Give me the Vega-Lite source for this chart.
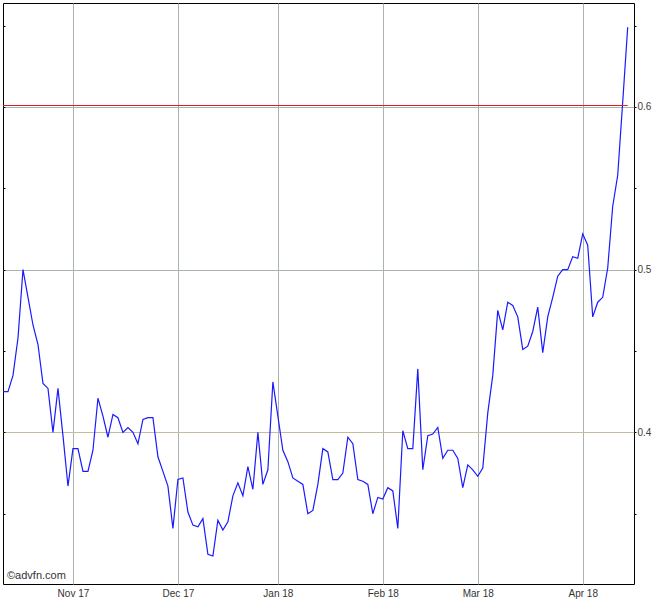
{
  "$schema": "https://vega.github.io/schema/vega-lite/v6.json",
  "autosize": {"type": "none"},
  "padding": {"left": 3, "top": 3, "right": 36, "bottom": 16},
  "width": 631,
  "height": 581,
  "background": "#ffffff",
  "config": {
    "view": {"stroke": "#000000", "strokeWidth": 1},
    "font": "Liberation Sans",
    "axis": {"labelFont": "Liberation Sans", "labelFontSize": 10, "labelColor": "#333333"}
  },
  "datasets": {
    "prices": [
      {"date": "2017-10-12", "price": 0.425}, {"date": "2017-10-13", "price": 0.425}, {"date": "2017-10-16", "price": 0.435}, {"date": "2017-10-17", "price": 0.458}, {"date": "2017-10-18", "price": 0.500}, {"date": "2017-10-19", "price": 0.483}, {"date": "2017-10-20", "price": 0.466}, {"date": "2017-10-23", "price": 0.454}, {"date": "2017-10-24", "price": 0.430}, {"date": "2017-10-25", "price": 0.427}, {"date": "2017-10-26", "price": 0.400}, {"date": "2017-10-27", "price": 0.427}, {"date": "2017-10-30", "price": 0.398}, {"date": "2017-10-31", "price": 0.367},
      {"date": "2017-11-01", "price": 0.390}, {"date": "2017-11-02", "price": 0.390}, {"date": "2017-11-03", "price": 0.376}, {"date": "2017-11-06", "price": 0.376}, {"date": "2017-11-07", "price": 0.389}, {"date": "2017-11-08", "price": 0.421}, {"date": "2017-11-09", "price": 0.410}, {"date": "2017-11-10", "price": 0.397}, {"date": "2017-11-13", "price": 0.411}, {"date": "2017-11-14", "price": 0.409}, {"date": "2017-11-15", "price": 0.400}, {"date": "2017-11-16", "price": 0.403}, {"date": "2017-11-17", "price": 0.400}, {"date": "2017-11-20", "price": 0.393}, {"date": "2017-11-21", "price": 0.408}, {"date": "2017-11-22", "price": 0.409}, {"date": "2017-11-24", "price": 0.409}, {"date": "2017-11-27", "price": 0.385}, {"date": "2017-11-28", "price": 0.376}, {"date": "2017-11-29", "price": 0.367}, {"date": "2017-11-30", "price": 0.341},
      {"date": "2017-12-01", "price": 0.371}, {"date": "2017-12-04", "price": 0.372}, {"date": "2017-12-05", "price": 0.351}, {"date": "2017-12-06", "price": 0.343}, {"date": "2017-12-07", "price": 0.342}, {"date": "2017-12-08", "price": 0.347}, {"date": "2017-12-11", "price": 0.325}, {"date": "2017-12-12", "price": 0.324}, {"date": "2017-12-13", "price": 0.346}, {"date": "2017-12-14", "price": 0.340}, {"date": "2017-12-15", "price": 0.345}, {"date": "2017-12-18", "price": 0.361}, {"date": "2017-12-19", "price": 0.369}, {"date": "2017-12-20", "price": 0.361}, {"date": "2017-12-21", "price": 0.379}, {"date": "2017-12-22", "price": 0.365}, {"date": "2017-12-26", "price": 0.400}, {"date": "2017-12-27", "price": 0.368}, {"date": "2017-12-28", "price": 0.377}, {"date": "2017-12-29", "price": 0.431},
      {"date": "2018-01-02", "price": 0.410}, {"date": "2018-01-03", "price": 0.389}, {"date": "2018-01-04", "price": 0.382}, {"date": "2018-01-05", "price": 0.372}, {"date": "2018-01-08", "price": 0.370}, {"date": "2018-01-09", "price": 0.368}, {"date": "2018-01-10", "price": 0.350}, {"date": "2018-01-11", "price": 0.352}, {"date": "2018-01-12", "price": 0.368}, {"date": "2018-01-16", "price": 0.390}, {"date": "2018-01-17", "price": 0.388}, {"date": "2018-01-18", "price": 0.371}, {"date": "2018-01-19", "price": 0.371}, {"date": "2018-01-22", "price": 0.375}, {"date": "2018-01-23", "price": 0.397}, {"date": "2018-01-24", "price": 0.393}, {"date": "2018-01-25", "price": 0.371}, {"date": "2018-01-26", "price": 0.370}, {"date": "2018-01-29", "price": 0.368}, {"date": "2018-01-30", "price": 0.350}, {"date": "2018-01-31", "price": 0.360},
      {"date": "2018-02-01", "price": 0.359}, {"date": "2018-02-02", "price": 0.366}, {"date": "2018-02-05", "price": 0.364}, {"date": "2018-02-06", "price": 0.341}, {"date": "2018-02-07", "price": 0.401}, {"date": "2018-02-08", "price": 0.390}, {"date": "2018-02-09", "price": 0.390}, {"date": "2018-02-12", "price": 0.439}, {"date": "2018-02-13", "price": 0.377}, {"date": "2018-02-14", "price": 0.398}, {"date": "2018-02-15", "price": 0.399}, {"date": "2018-02-16", "price": 0.403}, {"date": "2018-02-20", "price": 0.384}, {"date": "2018-02-21", "price": 0.389}, {"date": "2018-02-22", "price": 0.389}, {"date": "2018-02-23", "price": 0.384}, {"date": "2018-02-26", "price": 0.366}, {"date": "2018-02-27", "price": 0.380}, {"date": "2018-02-28", "price": 0.377},
      {"date": "2018-03-01", "price": 0.373}, {"date": "2018-03-02", "price": 0.378}, {"date": "2018-03-05", "price": 0.412}, {"date": "2018-03-06", "price": 0.435}, {"date": "2018-03-07", "price": 0.475}, {"date": "2018-03-08", "price": 0.463}, {"date": "2018-03-09", "price": 0.480}, {"date": "2018-03-12", "price": 0.478}, {"date": "2018-03-13", "price": 0.471}, {"date": "2018-03-14", "price": 0.451}, {"date": "2018-03-15", "price": 0.453}, {"date": "2018-03-16", "price": 0.462}, {"date": "2018-03-19", "price": 0.477}, {"date": "2018-03-20", "price": 0.449}, {"date": "2018-03-21", "price": 0.471}, {"date": "2018-03-22", "price": 0.483}, {"date": "2018-03-23", "price": 0.496}, {"date": "2018-03-26", "price": 0.500}, {"date": "2018-03-27", "price": 0.500}, {"date": "2018-03-28", "price": 0.508}, {"date": "2018-03-29", "price": 0.507},
      {"date": "2018-04-02", "price": 0.522}, {"date": "2018-04-03", "price": 0.515}, {"date": "2018-04-04", "price": 0.471}, {"date": "2018-04-05", "price": 0.480}, {"date": "2018-04-06", "price": 0.483}, {"date": "2018-04-09", "price": 0.501}, {"date": "2018-04-10", "price": 0.539}, {"date": "2018-04-11", "price": 0.558}, {"date": "2018-04-12", "price": 0.603}, {"date": "2018-04-13", "price": 0.649}
    ],
    "reference": [
      {"date": "2017-10-12", "end": "2018-04-13", "level": 0.6009}
    ],
    "credit": [
      {"date": "2017-10-12", "price": 0.3117, "label": "©advfn.com"}
    ]
  },
  "encoding": {
    "x": {
      "field": "date", "type": "ordinal",
      "scale": {"type": "point", "padding": 0.63, "align": 0},
      "axis": {
        "title": null,
        "values": ["2017-11-01", "2017-12-01", "2018-01-02", "2018-02-01", "2018-03-01", "2018-04-02"],
        "labelExpr": "datum.value == '2017-11-01' ? 'Nov 17' : datum.value == '2017-12-01' ? 'Dec 17' : datum.value == '2018-01-02' ? 'Jan 18' : datum.value == '2018-02-01' ? 'Feb 18' : datum.value == '2018-03-01' ? 'Mar 18' : 'Apr 18'",
        "labelAngle": 0,
        "labelPadding": 4,
        "labelColor": "#333333",
        "ticks": false,
        "domain": false,
        "grid": true,
        "gridColor": "#aab2b2",
        "gridWidth": 1
      }
    }
  },
  "resolve": {"axis": {"y": "independent"}},
  "layer": [
    {
      "data": {"name": "prices"},
      "mark": {"type": "line", "color": "#1a1aff", "strokeWidth": 1.2, "clip": true},
      "encoding": {
        "y": {
          "field": "price", "type": "quantitative",
          "scale": {"domain": [0.3068, 0.6639], "nice": false, "zero": false},
          "axis": {
            "orient": "left",
            "title": null,
            "values": [0.35, 0.4, 0.45, 0.5, 0.55, 0.6, 0.65],
            "labels": false,
            "domain": false,
            "ticks": true,
            "tickSize": -2,
            "tickColor": "#000000",
            "grid": true,
            "gridColor": {"condition": {"test": "abs(datum.value - 0.4) < 0.001", "value": "#c4bc9c"}, "value": "#aab2b2"},
            "gridOpacity": {"condition": {"test": "abs(datum.value * 10 - round(datum.value * 10)) < 0.001", "value": 1}, "value": 0}
          }
        }
      }
    },
    {
      "data": {"name": "reference"},
      "mark": {"type": "rule", "color": "#dd1c1c", "strokeWidth": 1.2},
      "encoding": {
        "x2": {"field": "end"},
        "y": {
          "field": "level", "type": "quantitative",
          "scale": {"domain": [0.3068, 0.6639], "nice": false, "zero": false},
          "axis": {
            "orient": "right",
            "title": null,
            "values": [0.35, 0.4, 0.45, 0.5, 0.55, 0.6, 0.65],
            "labelExpr": "abs(datum.value * 10 - round(datum.value * 10)) < 0.001 ? format(datum.value, '.1f') : ''",
            "labelPadding": 1,
            "labelColor": "#404040",
            "domain": false,
            "ticks": true,
            "tickSize": 2,
            "tickColor": "#000000",
            "grid": false
          }
        }
      }
    },
    {
      "data": {"name": "credit"},
      "mark": {"type": "text", "align": "left", "baseline": "middle", "dx": 4, "fontSize": 11, "font": "Liberation Sans", "color": "#333333"},
      "encoding": {
        "y": {"field": "price", "type": "quantitative", "scale": {"domain": [0.3068, 0.6639], "nice": false, "zero": false}, "axis": null},
        "text": {"field": "label"}
      }
    }
  ]
}
